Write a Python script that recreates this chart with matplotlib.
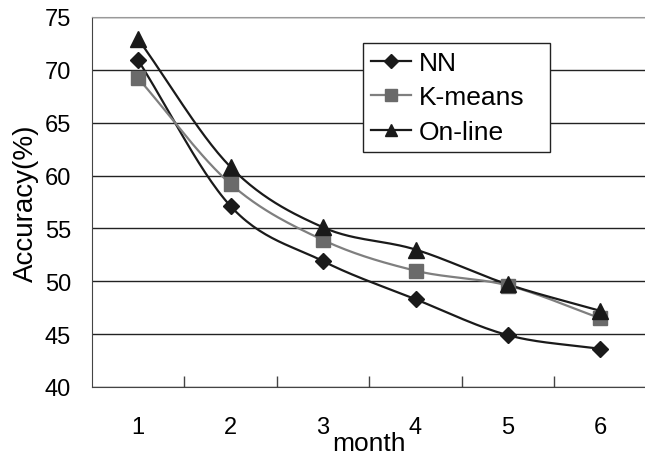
import matplotlib
matplotlib.use("Agg")
import matplotlib.pyplot as plt
import numpy as np

# values
months = [1, 2, 3, 4, 5, 6]
nn = [70.9, 57.1, 51.9, 48.3, 44.9, 43.6]
kmeans = [69.2, 59.2, 53.9, 51.0, 49.6, 46.5]
online = [72.9, 60.8, 55.1, 53.0, 49.7, 47.2]
yticks = [40, 45, 50, 55, 60, 65, 70, 75]

plt.rcParams['font.family'] = ['Liberation Sans', 'DejaVu Sans']


def smooth(x, y, n=30):
    # catmull-rom curve through the points, like excel's smoothed lines
    x = np.asarray(x, float)
    y = np.asarray(y, float)
    px = np.concatenate([[2 * x[0] - x[1]], x, [2 * x[-1] - x[-2]]])
    py = np.concatenate([[2 * y[0] - y[1]], y, [2 * y[-1] - y[-2]]])
    xs, ys = [], []
    t = np.linspace(0, 1, n)
    for i in range(1, len(px) - 2):
        for p, out in ((px, xs), (py, ys)):
            p0, p1, p2, p3 = p[i - 1], p[i], p[i + 1], p[i + 2]
            out.append(0.5 * (2 * p1 + (-p0 + p2) * t
                              + (2 * p0 - 5 * p1 + 4 * p2 - p3) * t ** 2
                              + (-p0 + 3 * p1 - 3 * p2 + p3) * t ** 3))
    return np.concatenate(xs), np.concatenate(ys)


fig = plt.figure(figsize=(6.45, 4.52), dpi=100)
ax = fig.add_axes([0.1426, 0.1416, 0.86, 0.8186])

series = [
    ('NN', nn, '#1a1a1a', '#1a1a1a', 'D', 8.5),
    ('K-means', kmeans, '#7f7f7f', '#6a6a6a', 's', 10),
    ('On-line', online, '#1a1a1a', '#1a1a1a', '^', 11),
]
for name, vals, lc, mc, mk, ms in series:
    sx, sy = smooth(months, vals)
    ax.plot(sx, sy, '-', color=lc, linewidth=1.6, zorder=3)
    ax.plot(months, vals, linestyle='none', marker=mk, markersize=ms,
            color=mc, zorder=4)
    # legend proxy
    ax.plot([], [], '-', color=lc, linewidth=1.6, marker=mk, markersize=ms * 0.85,
            markerfacecolor=mc, markeredgecolor=mc, label=name)

ax.set_xlim(0.5, 6.5)
ax.set_ylim(40, 75)
ax.set_yticks(yticks)
ax.set_yticklabels([str(v) for v in yticks], fontsize=17)
ax.tick_params(axis='y', length=0, pad=15)

ax.set_xticks(months)
ax.set_xticklabels([str(m) for m in months], fontsize=17)
ax.tick_params(axis='x', which='major', length=0, pad=21)
ax.set_xticks(np.arange(1.5, 6.5, 1), minor=True)
ax.tick_params(axis='x', which='minor', direction='in', length=8, width=1, color='#444444')

ax.grid(axis='y', color='#222222', linewidth=1)
ax.set_axisbelow(True)
ax.spines['right'].set_visible(False)
ax.spines['top'].set_color('#999999')
ax.spines['left'].set_color('#444444')
ax.spines['bottom'].set_color('#444444')

ax.set_ylabel('Accuracy(%)', fontsize=20, labelpad=4)
ax.set_xlabel('month', fontsize=19, labelpad=-5)

leg = ax.legend(loc='upper left', bbox_to_anchor=(0.4886, 0.0, 0.337, 0.93),
                mode='expand', fontsize=19, frameon=True, fancybox=False,
                handlelength=1.5, handletextpad=0.3, labelspacing=0.4,
                borderpad=0.3, borderaxespad=0)
leg.get_frame().set_edgecolor('#222222')
leg.get_frame().set_linewidth(1)
leg.get_frame().set_alpha(1)

fig.savefig('out.png', dpi=100)
